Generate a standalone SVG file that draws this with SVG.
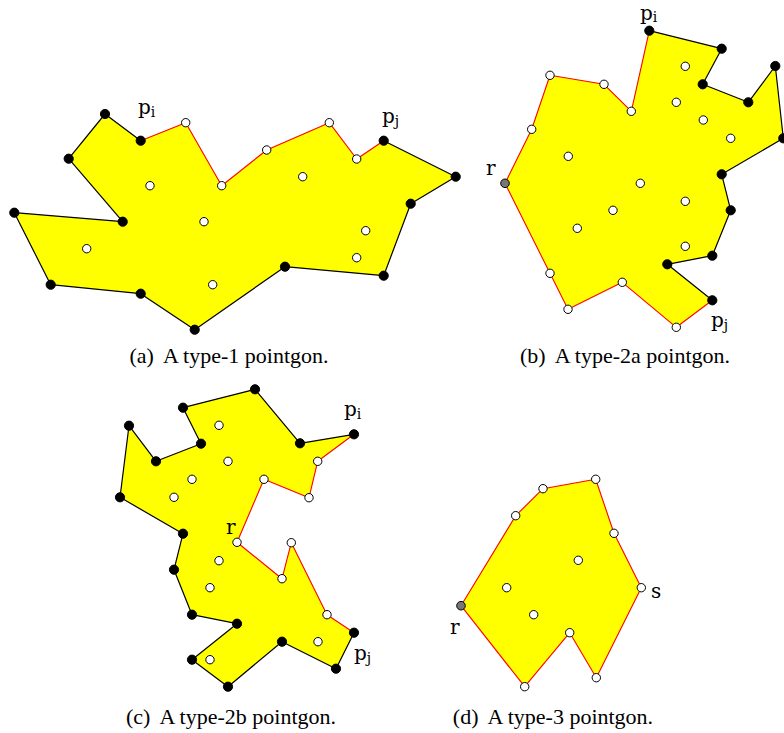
<svg xmlns="http://www.w3.org/2000/svg" xmlns:xlink="http://www.w3.org/1999/xlink" width="784" height="733" viewBox="0 0 784 733">
<style>
.fill{fill:#ffff00;stroke:none}
.bl{fill:none;stroke:#000;stroke-width:1.2;stroke-linejoin:round}
.rd{fill:none;stroke:#ff0000;stroke-width:1.1;stroke-linejoin:round}
.bk{fill:#000;stroke:#000;stroke-width:1}
.wh{fill:#fff;stroke:#000;stroke-width:1}
.gr{fill:#777;stroke:#000;stroke-width:1}
.lab{font-family:"DejaVu Serif","Liberation Serif",serif;font-size:20px;fill:#000}
.sub{font-size:14px}
.cap{font-family:"Liberation Serif",serif;font-size:22px;fill:#000;text-anchor:middle}
</style>
<rect width="784" height="733" fill="#fff"/>

<!-- fills -->
<g id="fills">
<polygon class="fill" points="140.7,140.7 185.7,122.7 221.7,185.7 266.7,150 329.3,122.7 356.7,159 383.7,140.7 455.7,176.7 410.7,203.7 383.7,275.7 285,266.7 194.7,329.7 140.7,293.7 50.7,284.7 14.3,212.7 122.7,221.7 68.7,158.7 105,114"/>
<polygon class="fill" points="649.3,30.7 721.7,48.7 702.7,84.3 748.3,102.3 775.3,66 783.3,138.3 721.7,174.3 730.7,210.3 712.3,255.7 667.3,264.3 712.3,300.3 676.3,327.3 622.3,282.3 568,309.3 550,273.3 505,183.3 531.7,129.3 550,75.3 604,84.3 631.3,111.3"/>
<polygon class="fill" points="354,434.3 300,443.3 255,389.3 183,407.7 201,443.7 156,461.3 129,425.7 120,497.3 183,533.7 174,569.7 192,614.7 237,623.7 192,659.7 228,686.7 282,641.7 336,668.7 354,632.7 327,614.7 291.3,542.7 282,578.7 237,542.3 264,479.3 309,497.7 317.7,461.3"/>
<polygon class="fill" points="461,605.7 515.7,515.7 543,488.7 595.7,479.3 614,533.3 641.3,587.7 596.3,677.7 569.7,632.7 524.7,686.7"/>
</g>

<g id="connectors">
<polyline class="rd" points="140.7,140.7 185.7,122.7 221.7,185.7 266.7,150 329.3,122.7 356.7,159 383.7,140.7"/>
<polyline class="bl" points="383.7,140.7 455.7,176.7 410.7,203.7 383.7,275.7 285,266.7 194.7,329.7 140.7,293.7 50.7,284.7 14.3,212.7 122.7,221.7 68.7,158.7 105,114 140.7,140.7"/>
<polyline class="bl" points="649.3,30.7 721.7,48.7 702.7,84.3 748.3,102.3 775.3,66 783.3,138.3 721.7,174.3 730.7,210.3 712.3,255.7 667.3,264.3 712.3,300.3"/>
<polyline class="rd" points="712.3,300.3 676.3,327.3 622.3,282.3 568,309.3 550,273.3 505,183.3 531.7,129.3 550,75.3 604,84.3 631.3,111.3 649.3,30.7"/>
<polyline class="bl" points="354,434.3 300,443.3 255,389.3 183,407.7 201,443.7 156,461.3 129,425.7 120,497.3 183,533.7 174,569.7 192,614.7 237,623.7 192,659.7 228,686.7 282,641.7 336,668.7 354,632.7"/>
<polyline class="rd" points="354,632.7 327,614.7 291.3,542.7 282,578.7 237,542.3 264,479.3 309,497.7 317.7,461.3 354,434.3"/>
<polygon class="rd" points="461,605.7 515.7,515.7 543,488.7 595.7,479.3 614,533.3 641.3,587.7 596.3,677.7 569.7,632.7 524.7,686.7"/>
</g>

<!-- panel (a) nodes -->
<g id="panel-a">
<g id="a-pi"><circle class="bk" cx="140.7" cy="140.7" r="4.6"/></g>
<g id="a-b1"><circle class="wh" cx="185.7" cy="122.7" r="4.2"/></g>
<g id="a-b2"><circle class="wh" cx="221.7" cy="185.7" r="4.2"/></g>
<g id="a-b3"><circle class="wh" cx="266.7" cy="150" r="4.2"/></g>
<g id="a-b4"><circle class="wh" cx="329.3" cy="122.7" r="4.2"/></g>
<g id="a-b5"><circle class="wh" cx="356.7" cy="159" r="4.2"/></g>
<g id="a-pj"><circle class="bk" cx="383.7" cy="140.7" r="4.6"/></g>
<g id="a-k1"><circle class="bk" cx="455.7" cy="176.7" r="4.6"/></g>
<g id="a-k2"><circle class="bk" cx="410.7" cy="203.7" r="4.6"/></g>
<g id="a-k3"><circle class="bk" cx="383.7" cy="275.7" r="4.6"/></g>
<g id="a-k4"><circle class="bk" cx="285" cy="266.7" r="4.6"/></g>
<g id="a-k5"><circle class="bk" cx="194.7" cy="329.7" r="4.6"/></g>
<g id="a-k6"><circle class="bk" cx="140.7" cy="293.7" r="4.6"/></g>
<g id="a-k7"><circle class="bk" cx="50.7" cy="284.7" r="4.6"/></g>
<g id="a-k8"><circle class="bk" cx="14.3" cy="212.7" r="4.6"/></g>
<g id="a-k9"><circle class="bk" cx="122.7" cy="221.7" r="4.6"/></g>
<g id="a-k10"><circle class="bk" cx="68.7" cy="158.7" r="4.6"/></g>
<g id="a-k11"><circle class="bk" cx="105" cy="114" r="4.6"/></g>
<g id="a-i1"><circle class="wh" cx="150" cy="185.7" r="4.2"/></g>
<g id="a-i2"><circle class="wh" cx="204" cy="221.7" r="4.2"/></g>
<g id="a-i3"><circle class="wh" cx="86.7" cy="248.7" r="4.2"/></g>
<g id="a-i4"><circle class="wh" cx="212.7" cy="284.7" r="4.2"/></g>
<g id="a-i5"><circle class="wh" cx="302.7" cy="176.7" r="4.2"/></g>
<g id="a-i6"><circle class="wh" cx="365.7" cy="230.7" r="4.2"/></g>
<g id="a-i7"><circle class="wh" cx="356.7" cy="257.7" r="4.2"/></g>
<text class="lab" x="138" y="114">p<tspan class="sub" dy="3">i</tspan></text>
<text class="lab" x="382" y="123">p<tspan class="sub" dy="3">j</tspan></text>
<text class="cap" x="229" y="363">(a)<tspan dx="9">A type-1 pointgon.</tspan></text>
</g>

<!-- panel (b) nodes -->
<g id="panel-b">
<g id="b-pi"><circle class="bk" cx="649.3" cy="30.7" r="4.6"/></g>
<g id="b-k1"><circle class="bk" cx="721.7" cy="48.7" r="4.6"/></g>
<g id="b-k2"><circle class="bk" cx="702.7" cy="84.3" r="4.6"/></g>
<g id="b-k3"><circle class="bk" cx="748.3" cy="102.3" r="4.6"/></g>
<g id="b-k4"><circle class="bk" cx="775.3" cy="66" r="4.6"/></g>
<g id="b-k5"><circle class="bk" cx="783.3" cy="138.3" r="4.6"/></g>
<g id="b-k6"><circle class="bk" cx="721.7" cy="174.3" r="4.6"/></g>
<g id="b-k7"><circle class="bk" cx="730.7" cy="210.3" r="4.6"/></g>
<g id="b-k8"><circle class="bk" cx="712.3" cy="255.7" r="4.6"/></g>
<g id="b-k9"><circle class="bk" cx="667.3" cy="264.3" r="4.6"/></g>
<g id="b-pj"><circle class="bk" cx="712.3" cy="300.3" r="4.6"/></g>
<g id="b-b1"><circle class="wh" cx="676.3" cy="327.3" r="4.2"/></g>
<g id="b-b2"><circle class="wh" cx="622.3" cy="282.3" r="4.2"/></g>
<g id="b-b3"><circle class="wh" cx="568" cy="309.3" r="4.2"/></g>
<g id="b-b4"><circle class="wh" cx="550" cy="273.3" r="4.2"/></g>
<g id="b-r"><circle class="gr" cx="505" cy="183.3" r="4.3"/></g>
<g id="b-b5"><circle class="wh" cx="531.7" cy="129.3" r="4.2"/></g>
<g id="b-b6"><circle class="wh" cx="550" cy="75.3" r="4.2"/></g>
<g id="b-b7"><circle class="wh" cx="604" cy="84.3" r="4.2"/></g>
<g id="b-b8"><circle class="wh" cx="631.3" cy="111.3" r="4.2"/></g>
<g id="b-i1"><circle class="wh" cx="685.3" cy="66.3" r="4.2"/></g>
<g id="b-i2"><circle class="wh" cx="676.3" cy="102.3" r="4.2"/></g>
<g id="b-i3"><circle class="wh" cx="703.3" cy="120" r="4.2"/></g>
<g id="b-i4"><circle class="wh" cx="730.7" cy="138.3" r="4.2"/></g>
<g id="b-i5"><circle class="wh" cx="568.3" cy="156.3" r="4.2"/></g>
<g id="b-i6"><circle class="wh" cx="640.3" cy="183.3" r="4.2"/></g>
<g id="b-i7"><circle class="wh" cx="685.3" cy="201.3" r="4.2"/></g>
<g id="b-i8"><circle class="wh" cx="613" cy="210.3" r="4.2"/></g>
<g id="b-i9"><circle class="wh" cx="577.3" cy="228.3" r="4.2"/></g>
<g id="b-i10"><circle class="wh" cx="685.3" cy="246.3" r="4.2"/></g>
<text class="lab" x="640" y="20">p<tspan class="sub" dy="2">i</tspan></text>
<text class="lab" x="711" y="327">p<tspan class="sub" dy="3">j</tspan></text>
<text class="lab" x="486" y="175">r</text>
<text class="cap" x="625" y="363">(b)<tspan dx="9">A type-2a pointgon.</tspan></text>
</g>

<!-- panel (c) nodes -->
<g id="panel-c">
<g id="c-pi"><circle class="bk" cx="354" cy="434.3" r="4.6"/></g>
<g id="c-k1"><circle class="bk" cx="300" cy="443.3" r="4.6"/></g>
<g id="c-k2"><circle class="bk" cx="255" cy="389.3" r="4.6"/></g>
<g id="c-k3"><circle class="bk" cx="183" cy="407.7" r="4.6"/></g>
<g id="c-k4"><circle class="bk" cx="201" cy="443.7" r="4.6"/></g>
<g id="c-k5"><circle class="bk" cx="156" cy="461.3" r="4.6"/></g>
<g id="c-k6"><circle class="bk" cx="129" cy="425.7" r="4.6"/></g>
<g id="c-k7"><circle class="bk" cx="120" cy="497.3" r="4.6"/></g>
<g id="c-k8"><circle class="bk" cx="183" cy="533.7" r="4.6"/></g>
<g id="c-k9"><circle class="bk" cx="174" cy="569.7" r="4.6"/></g>
<g id="c-k10"><circle class="bk" cx="192" cy="614.7" r="4.6"/></g>
<g id="c-k11"><circle class="bk" cx="237" cy="623.7" r="4.6"/></g>
<g id="c-k12"><circle class="bk" cx="192" cy="659.7" r="4.6"/></g>
<g id="c-k13"><circle class="bk" cx="228" cy="686.7" r="4.6"/></g>
<g id="c-k14"><circle class="bk" cx="282" cy="641.7" r="4.6"/></g>
<g id="c-k15"><circle class="bk" cx="336" cy="668.7" r="4.6"/></g>
<g id="c-pj"><circle class="bk" cx="354" cy="632.7" r="4.6"/></g>
<g id="c-b1"><circle class="wh" cx="327" cy="614.7" r="4.2"/></g>
<g id="c-b2"><circle class="wh" cx="291.3" cy="542.7" r="4.2"/></g>
<g id="c-b3"><circle class="wh" cx="282" cy="578.7" r="4.2"/></g>
<g id="c-r"><circle class="wh" cx="237" cy="542.3" r="4.2"/></g>
<g id="c-b4"><circle class="wh" cx="264" cy="479.3" r="4.2"/></g>
<g id="c-b5"><circle class="wh" cx="309" cy="497.7" r="4.2"/></g>
<g id="c-b6"><circle class="wh" cx="317.7" cy="461.3" r="4.2"/></g>
<g id="c-i1"><circle class="wh" cx="219" cy="425.3" r="4.2"/></g>
<g id="c-i2"><circle class="wh" cx="228" cy="461.3" r="4.2"/></g>
<g id="c-i3"><circle class="wh" cx="192" cy="479.3" r="4.2"/></g>
<g id="c-i4"><circle class="wh" cx="174" cy="497.3" r="4.2"/></g>
<g id="c-i5"><circle class="wh" cx="219" cy="560.7" r="4.2"/></g>
<g id="c-i6"><circle class="wh" cx="210" cy="587.7" r="4.2"/></g>
<g id="c-i7"><circle class="wh" cx="210" cy="659.7" r="4.2"/></g>
<g id="c-i8"><circle class="wh" cx="318" cy="641.7" r="4.2"/></g>
<text class="lab" x="344" y="416">p<tspan class="sub" dy="3">i</tspan></text>
<text class="lab" x="354" y="660">p<tspan class="sub" dy="3">j</tspan></text>
<text class="lab" x="226" y="534">r</text>
<text class="cap" x="231" y="724">(c)<tspan dx="9">A type-2b pointgon.</tspan></text>
</g>

<!-- panel (d) nodes -->
<g id="panel-d">
<g id="d-r"><circle class="gr" cx="461" cy="605.7" r="4.3"/></g>
<g id="d-b1"><circle class="wh" cx="515.7" cy="515.7" r="4.2"/></g>
<g id="d-b2"><circle class="wh" cx="543" cy="488.7" r="4.2"/></g>
<g id="d-b3"><circle class="wh" cx="595.7" cy="479.3" r="4.2"/></g>
<g id="d-b4"><circle class="wh" cx="614" cy="533.3" r="4.2"/></g>
<g id="d-s"><circle class="wh" cx="641.3" cy="587.7" r="4.2"/></g>
<g id="d-b5"><circle class="wh" cx="596.3" cy="677.7" r="4.2"/></g>
<g id="d-b6"><circle class="wh" cx="569.7" cy="632.7" r="4.2"/></g>
<g id="d-b7"><circle class="wh" cx="524.7" cy="686.7" r="4.2"/></g>
<g id="d-i1"><circle class="wh" cx="578.3" cy="560.3" r="4.2"/></g>
<g id="d-i2"><circle class="wh" cx="506.7" cy="587.7" r="4.2"/></g>
<g id="d-i3"><circle class="wh" cx="533.7" cy="614.7" r="4.2"/></g>
<text class="lab" x="450" y="634">r</text>
<text class="lab" x="651" y="598">s</text>
<text class="cap" x="553" y="724">(d)<tspan dx="9">A type-3 pointgon.</tspan></text>
</g>
</svg>
